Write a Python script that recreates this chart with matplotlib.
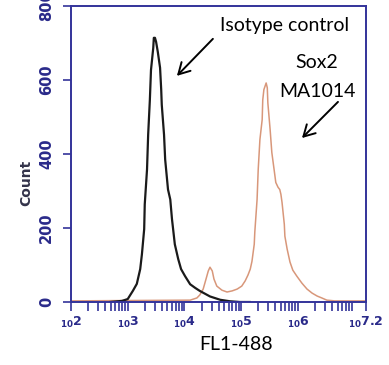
import matplotlib
matplotlib.use("Agg")
import matplotlib.pyplot as plt
from matplotlib.ticker import LogLocator, NullFormatter
import numpy as np

# Isotype control histogram (log10 of FL1-488 intensity, count)
iso_log = [2.69, 2.90, 3.00, 3.09, 3.16, 3.22, 3.25, 3.29, 3.30, 3.34, 3.36, 3.39,
           3.41, 3.45, 3.46, 3.48, 3.50, 3.53, 3.57, 3.59, 3.60, 3.64, 3.66, 3.71,
           3.75, 3.78, 3.80, 3.83, 3.89, 3.94, 4.01, 4.10, 4.19, 4.27, 4.45, 4.63,
           4.80, 4.98, 5.15]
iso_count = [0, 3, 8, 30, 49, 89, 129, 197, 264, 358, 452, 546,
             627, 687, 714, 714, 703, 676, 633, 574, 533, 452, 385, 304,
             277, 224, 197, 156, 116, 89, 70, 48, 38, 30, 15, 6,
             2, 0, 0]

# Sox2 MA1014 histogram
sox_log = [2.00, 4.10, 4.22, 4.27, 4.33, 4.38, 4.42, 4.45, 4.49, 4.52, 4.57, 4.66,
           4.75, 4.84, 4.93, 5.01, 5.07, 5.12, 5.16, 5.19, 5.23, 5.24, 5.28, 5.30,
           5.33, 5.37, 5.38, 5.40, 5.44, 5.46, 5.47, 5.51, 5.54, 5.58, 5.61, 5.65,
           5.68, 5.70, 5.72, 5.76, 5.77, 5.81, 5.86, 5.91, 5.98, 6.07, 6.16, 6.25,
           6.34, 6.42, 6.51, 6.65, 7.20]
sox_count = [3, 5, 11, 19, 35, 62, 84, 94, 84, 62, 43, 32,
             27, 30, 35, 43, 57, 73, 89, 110, 156, 189, 277, 358,
             439, 493, 546, 574, 592, 579, 538, 466, 404, 358, 323, 310,
             304, 291, 269, 210, 178, 143, 108, 86, 70, 51, 35, 24,
             16, 11, 5, 3, 3]

x_ticks = [2, 3, 4, 5, 6, 7.2]
x_tick_labels = ["2", "3", "4", "5", "6", "7.2"]
y_ticks = [0, 200, 400, 600, 800]

navy = "#33339a"
label_col = "#2a2a8a"

fig = plt.figure(figsize=(3.89, 3.65), dpi=100)
ax = fig.add_axes([71 / 389, 63 / 365, 295 / 389, 296 / 365])

ax.plot(10 ** np.array(sox_log), sox_count, color="#d8977a", lw=1.1)
ax.plot(10 ** np.array(iso_log), iso_count, color="#1a1a1a", lw=1.6)

ax.set_xscale("log")
ax.set_xlim(10 ** 2, 10 ** 7.2)
ax.set_ylim(0, 800)

ax.set_xticks([10 ** t for t in x_ticks])
ax.set_xticklabels([r"$_{\mathbf{10}}\mathbf{%s}$" % s for s in x_tick_labels])
ax.xaxis.set_minor_locator(LogLocator(base=10, subs=np.arange(2, 10), numticks=20))
ax.xaxis.set_minor_formatter(NullFormatter())
ax.set_yticks(y_ticks)
ax.set_yticklabels([str(v) for v in y_ticks], rotation=90, va="center",
                   fontweight="bold")

for s in ax.spines.values():
    s.set_color(navy)
    s.set_linewidth(1.4)
ax.tick_params(axis="x", which="both", direction="out", length=6.5, width=1.2,
               color=navy, labelcolor=label_col, labelsize=9, pad=3)
ax.tick_params(axis="y", direction="out", length=6, width=1.2, color=navy,
               labelcolor=label_col, labelsize=10.5, pad=6)

fig.text(26 / 389, 1 - 183 / 365, "Count", rotation=90, ha="center", va="center",
         fontsize=10, color="#33334a", fontweight="bold")
fig.text(236 / 389, 1 - 344 / 365, "FL1-488", ha="center", va="center",
         fontsize=14, family="Lato")

ax.text(0.725, 0.917, "Isotype control", transform=ax.transAxes, ha="center",
        va="baseline", fontsize=14, family="Lato")
ax.text(0.834, 0.791, "Sox2", transform=ax.transAxes, ha="center",
        va="baseline", fontsize=14, family="Lato")
ax.text(0.834, 0.693, "MA1014", transform=ax.transAxes, ha="center",
        va="baseline", fontsize=14, family="Lato")

arrow = dict(arrowstyle="->,head_length=0.8,head_width=0.45", color="black",
             lw=1.4, mutation_scale=10, shrinkA=0, shrinkB=0)
ax.annotate("", xy=(0.359, 0.764), xytext=(0.481, 0.889), xycoords="axes fraction",
            arrowprops=arrow)
ax.annotate("", xy=(0.783, 0.554), xytext=(0.905, 0.676), xycoords="axes fraction",
            arrowprops=arrow)

fig.savefig("out.png", dpi=100)
